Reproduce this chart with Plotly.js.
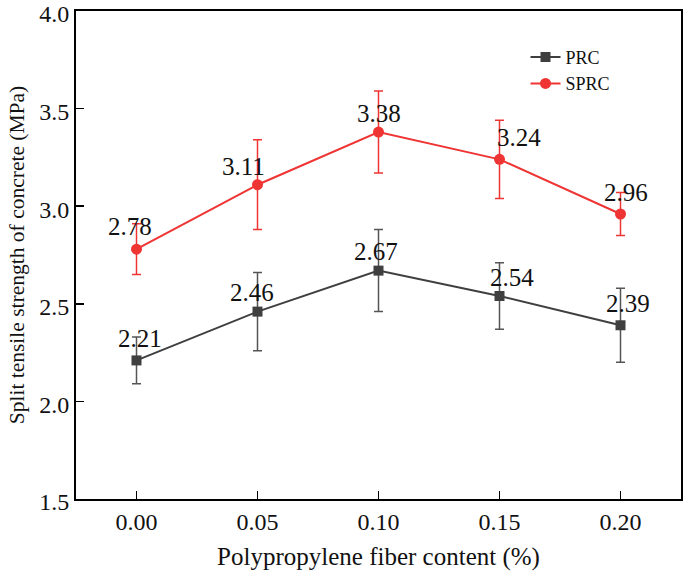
<!DOCTYPE html>
<html>
<head>
<meta charset="utf-8">
<script src="https://cdn.plot.ly/plotly-3.0.1.min.js"></script>
<style>html,body{margin:0;padding:0;background:#fff;}#chart{width:685px;height:576px;}</style>
</head>
<body>
<div id="chart"></div>
<script>
// ---- data ----
const fiberContent = [0.00, 0.05, 0.10, 0.15, 0.20];
const prcValues = [2.21, 2.46, 2.67, 2.54, 2.39];
const prcErrors = [0.12, 0.20, 0.21, 0.17, 0.19];
const sprcValues = [2.78, 3.11, 3.38, 3.24, 2.96];
const sprcErrors = [0.13, 0.23, 0.21, 0.20, 0.11];
const xTickVals = [0.00, 0.05, 0.10, 0.15, 0.20];
const xTickText = ['0.00', '0.05', '0.10', '0.15', '0.20'];
const yTickVals = [1.5, 2.0, 2.5, 3.0, 3.5, 4.0];
const yTickText = ['1.5', '2.0', '2.5', '3.0', '3.5', '4.0'];

// ---- label placement styles (pixel shifts) ----
const prcLabelDx = [3, -6, -3, 12, 7];
const prcLabelDy = [22, 19, 19, 18, 22];
const sprcLabelDx = [-7, -14, 0, 19, 5];
const sprcLabelDy = [23, 18, 19, 22, 22];

const FONT = 'Liberation Serif';
const PRC_COLOR = '#3f3f3f';
const SPRC_COLOR = '#ef3434';

const traces = [
  {
    x: fiberContent, y: prcValues, name: 'PRC', type: 'scatter', mode: 'lines+markers',
    line: {color: PRC_COLOR, width: 2},
    marker: {symbol: 'square', size: 10, color: PRC_COLOR},
    error_y: {type: 'data', array: prcErrors, visible: true, color: '#555555', thickness: 1.5, width: 4.5}
  },
  {
    x: fiberContent, y: sprcValues, name: 'SPRC', type: 'scatter', mode: 'lines+markers',
    line: {color: SPRC_COLOR, width: 2},
    marker: {symbol: 'circle', size: 11, color: SPRC_COLOR},
    error_y: {type: 'data', array: sprcErrors, visible: true, color: SPRC_COLOR, thickness: 1.5, width: 4.5}
  }
];

const annotations = [];
function addLabels(vals, dx, dy) {
  vals.forEach((v, i) => {
    annotations.push({
      x: fiberContent[i], y: v, xref: 'x', yref: 'y',
      text: v.toFixed(2), showarrow: false,
      xanchor: 'center', yanchor: 'middle',
      xshift: dx[i], yshift: dy[i],
      font: {family: FONT, size: 25, color: '#111'}
    });
  });
}
addLabels(prcValues, prcLabelDx, prcLabelDy);
addLabels(sprcValues, sprcLabelDx, sprcLabelDy);

const layout = {
  width: 685, height: 576,
  margin: {l: 76, r: 4, t: 11, b: 77},
  paper_bgcolor: '#fff', plot_bgcolor: '#fff',
  font: {family: FONT, color: '#111'},
  showlegend: true,
  legend: {
    x: 0.743, y: 0.943, xanchor: 'left', yanchor: 'top',
    bgcolor: 'rgba(0,0,0,0)', borderwidth: 0,
    font: {family: FONT, size: 18, color: '#111'},
    tracegroupgap: 0
  },
  xaxis: {
    range: [-0.025, 0.225],
    tickvals: xTickVals, ticktext: xTickText,
    ticks: 'inside', ticklen: 8, tickwidth: 1.5, tickcolor: '#000',
    showline: true, linecolor: '#000', linewidth: 2, mirror: true,
    showgrid: false, zeroline: false, ticklabeloverflow: 'allow',
    tickfont: {family: FONT, size: 24, color: '#111'},
    title: {text: 'Polypropylene fiber content (%)', font: {family: FONT, size: 25, color: '#111'}, standoff: 14}
  },
  yaxis: {
    range: [1.5, 4.0],
    tickvals: yTickVals, ticktext: yTickText,
    ticks: 'inside', ticklen: 8, tickwidth: 1.5, tickcolor: '#000',
    showline: true, linecolor: '#000', linewidth: 2, mirror: true,
    showgrid: false, zeroline: false, ticklabeloverflow: 'allow',
    ticklabelshift: 3,
    tickfont: {family: FONT, size: 24, color: '#111'},
    title: {text: 'Split tensile strength of concrete (MPa)', font: {family: FONT, size: 21.5, color: '#111'}, standoff: 9}
  },
  annotations: annotations
};

Plotly.newPlot('chart', traces, layout, {displayModeBar: false, staticPlot: true});
</script>
</body>
</html>
